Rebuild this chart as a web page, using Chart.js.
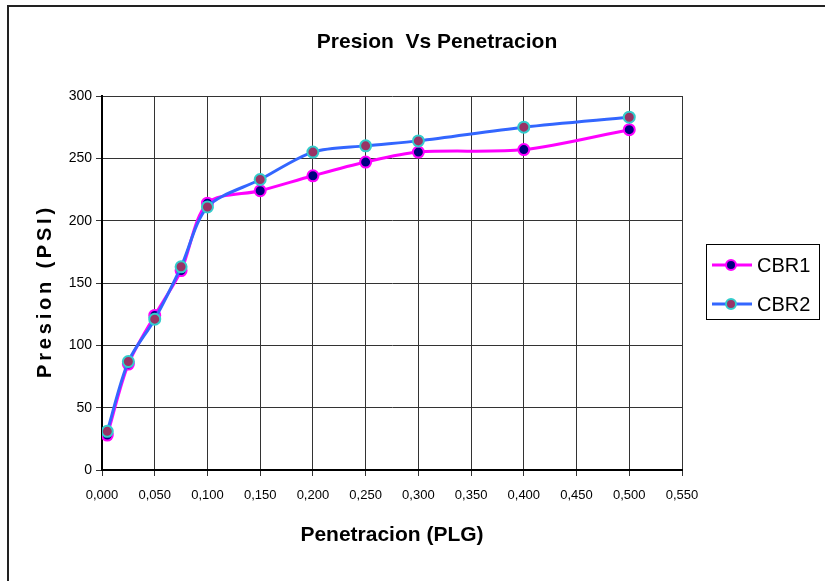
<!DOCTYPE html>
<html lang="es">
<head>
<meta charset="UTF-8">
<title>Presion Vs Penetracion</title>
<script src="https://cdn.jsdelivr.net/npm/chart.js"></script>
<style>
    body { margin: 0; background: #fff; }
    .wrap { width: 825px; height: 581px; position: relative; }
</style>
</head>
<body>
<div class="wrap"><canvas id="cbrChart"></canvas></div>
<script>
// penetracion en pulgadas, presion en PSI
const penetracion = [0.005, 0.025, 0.050, 0.075, 0.100, 0.150, 0.200, 0.250, 0.300, 0.400, 0.500];
const cbr1 = [28, 85, 124, 160, 214, 224, 236, 247, 255, 257, 273];
const cbr2 = [31, 87, 121, 163, 211, 233, 255, 260, 264, 275, 283];
const seriesNames = ['CBR1', 'CBR2'];

const FONT = "Arial, 'Liberation Sans', sans-serif";

const toPoints = vals => vals.map((v, i) => ({ x: penetracion[i], y: v }));

// marco, titulo, titulo del eje Y y leyenda
const decorations = {
    id: 'decorations',
    beforeDraw(chart) {
        const ctx = chart.ctx;
        ctx.save();
        ctx.fillStyle = '#fff';
        ctx.fillRect(0, 0, chart.width, chart.height);
        ctx.strokeStyle = '#222';
        ctx.lineWidth = 2;
        ctx.beginPath();
        ctx.moveTo(8, chart.height);
        ctx.lineTo(8, 6);
        ctx.lineTo(chart.width, 6);
        ctx.stroke();
        ctx.restore();
    },
    afterDraw(chart) {
        const ctx = chart.ctx;
        ctx.save();
        ctx.fillStyle = '#000';
        ctx.textAlign = 'center';
        ctx.textBaseline = 'middle';
        ctx.font = 'bold 21px ' + FONT;
        ctx.fillText('Presion  Vs Penetracion', 437, 42);

        ctx.save();
        ctx.translate(45, 291);
        ctx.rotate(-Math.PI / 2);
        ctx.font = 'bold 20px ' + FONT;
        ctx.letterSpacing = '3.8px';
        ctx.fillText('Presion (PSI)', 0, 0);
        ctx.restore();

        // leyenda
        ctx.strokeStyle = '#000';
        ctx.lineWidth = 1;
        ctx.strokeRect(706.5, 244.5, 113, 75);
        ctx.font = '20px ' + FONT;
        ctx.textAlign = 'left';
        chart.data.datasets.forEach((ds, i) => {
            const y = 265 + i * 39;
            ctx.strokeStyle = ds.borderColor;
            ctx.lineWidth = 3;
            ctx.beginPath();
            ctx.moveTo(712, y);
            ctx.lineTo(752, y);
            ctx.stroke();
            ctx.beginPath();
            ctx.arc(731, y, 5, 0, Math.PI * 2);
            ctx.fillStyle = ds.pointBackgroundColor;
            ctx.fill();
            ctx.lineWidth = 2;
            ctx.strokeStyle = ds.pointBorderColor;
            ctx.stroke();
            ctx.fillStyle = '#000';
            ctx.fillText(ds.label, 757, y + 1);
        });
        ctx.restore();
    }
};

new Chart(document.getElementById('cbrChart'), {
    type: 'line',
    data: {
        datasets: [{
            label: seriesNames[0],
            data: toPoints(cbr1),
            borderColor: '#FF00FF',
            borderWidth: 3,
            pointBackgroundColor: '#000080',
            pointBorderColor: '#FF00FF',
            pointBorderWidth: 2,
            pointRadius: 5.5,
            tension: 0.3,
            order: 1
        }, {
            label: seriesNames[1],
            data: toPoints(cbr2),
            borderColor: '#3366FF',
            borderWidth: 3,
            pointBackgroundColor: '#993366',
            pointBorderColor: '#33CCCC',
            pointBorderWidth: 2,
            pointRadius: 5.5,
            tension: 0.3,
            order: 0
        }]
    },
    options: {
        responsive: true,
        maintainAspectRatio: false,
        animation: false,
        layout: { padding: { top: 96, right: 143, bottom: 0, left: 0 } },
        plugins: {
            legend: { display: false },
            title: { display: false },
            tooltip: { enabled: false }
        },
        scales: {
            x: {
                type: 'linear',
                min: 0,
                max: 0.55,
                afterFit(scale) { scale.height = 111; },
                ticks: {
                    stepSize: 0.05,
                    color: '#000',
                    padding: 12,
                    font: { family: FONT, size: 13 },
                    callback: v => v.toFixed(3).replace('.', ',')
                },
                grid: { color: '#333', lineWidth: 1, tickLength: 6 },
                border: { color: '#000', width: 2 },
                title: {
                    display: true,
                    text: 'Penetracion (PLG)',
                    color: '#000',
                    font: { family: FONT, size: 21, weight: 'bold' },
                    padding: { bottom: 33 }
                }
            },
            y: {
                min: 0,
                max: 300,
                afterFit(scale) { scale.width = 102; },
                ticks: {
                    stepSize: 50,
                    color: '#000',
                    padding: 4,
                    font: { family: FONT, size: 14 }
                },
                grid: { color: '#333', lineWidth: 1, tickLength: 6 },
                border: { color: '#000', width: 2 }
            }
        }
    },
    plugins: [decorations]
});
</script>
</body>
</html>
